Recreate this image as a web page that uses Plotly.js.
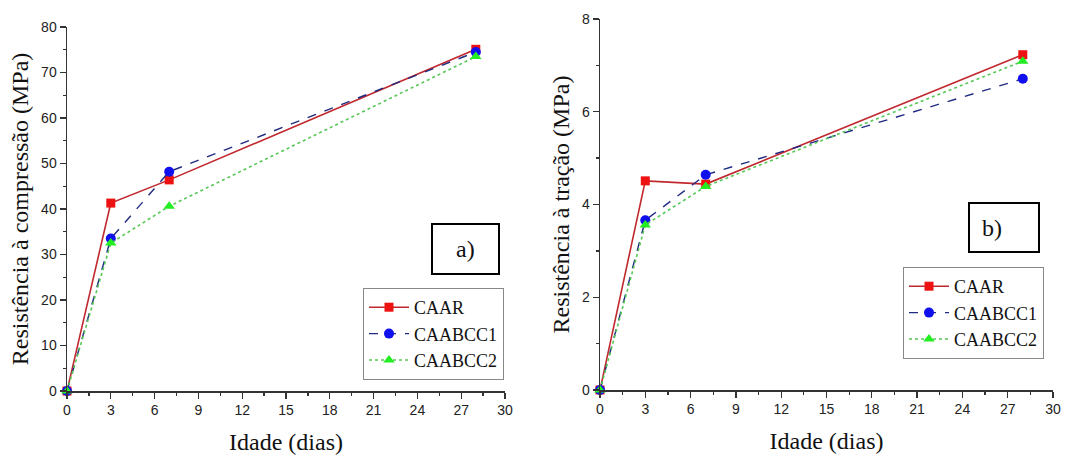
<!DOCTYPE html>
<html><head><meta charset="utf-8">
<script src="https://cdn.plot.ly/plotly-3.0.1.min.js"></script>
<style>body{margin:0;background:#fff}#chart{width:1068px;height:455px}</style>
</head><body><div id="chart"></div>
<script>
// Data
const idade = [0, 3, 7, 28];
const seriesNames = ["CAAR", "CAABCC1", "CAABCC2"];
// a) compressive strength (MPa)
const compCAAR    = [0, 41.3, 46.4, 75.1];
const compCAABCC1 = [0, 33.5, 48.2, 74.5];
const compCAABCC2 = [0, 32.5, 40.6, 73.5];
// b) tensile strength (MPa)
const tracCAAR    = [0, 4.51, 4.44, 7.23];
const tracCAABCC1 = [0, 3.66, 4.64, 6.71];
const tracCAABCC2 = [0, 3.56, 4.39, 7.09];
const xTicks = [0, 3, 6, 9, 12, 15, 18, 21, 24, 27, 30];

const styles = [
  {line:{color:'#c0282e', width:1.6, dash:'solid'}, marker:{symbol:'square', color:'#ee1111', size:9}},
  {line:{color:'#1f2a80', width:1.4, dash:'dash'}, marker:{symbol:'circle', color:'#1010ee', size:10}},
  {line:{color:'#55c855', width:1.6, dash:'dot'}, marker:{symbol:'triangle-up', color:'#22ee22', size:10}}
];

const compData = [compCAAR, compCAABCC1, compCAABCC2];
const tracData = [tracCAAR, tracCAABCC1, tracCAABCC2];
const traces = [];
compData.forEach((ys, i) => traces.push({
  x: idade, y: ys, name: seriesNames[i], type:'scatter', mode:'lines+markers',
  xaxis:'x', yaxis:'y', legend:'legend', cliponaxis:false,
  line: styles[i].line, marker: styles[i].marker
}));
tracData.forEach((ys, i) => traces.push({
  x: idade, y: ys, name: seriesNames[i], type:'scatter', mode:'lines+markers',
  xaxis:'x2', yaxis:'y2', legend:'legend2', cliponaxis:false,
  line: styles[i].line, marker: styles[i].marker
}));

const W = 1068, H = 455;
const SANS = "'Liberation Sans', Arial, sans-serif";
const SERIF = "'Liberation Serif', 'Times New Roman', serif";
const tickFont = {family:SANS, size:14, color:'#222'};
const titleFont = {family:SERIF, size:24, color:'#111'};
function xax(dom, anchor){
  return {domain:dom, anchor:anchor, range:[0,30], tickvals:xTicks, ticks:'outside', ticklen:6, tickwidth:1.3,
    tickcolor:'#333', showline:true, linecolor:'#333', linewidth:1.5, showgrid:false, zeroline:false,
    minor:{dtick:1.5, tick0:0, ticks:'outside', ticklen:3, tickcolor:'#333', showgrid:false},
    tickfont:tickFont, title:{text:'Idade (dias)', font:titleFont, standoff:16}};
}
function yax(dom, anchor, rng, dt, mdt, title, so){
  return {domain:dom, anchor:anchor, range:rng, dtick:dt, tick0:0, ticks:'outside', ticklen:6, tickwidth:1.3,
    tickcolor:'#333', showline:true, linecolor:'#333', linewidth:1.5, showgrid:false, zeroline:false,
    minor:{dtick:mdt, ticks:'outside', ticklen:3, tickcolor:'#333', showgrid:false},
    tickfont:tickFont, title:{text:title, font:titleFont, standoff:so}};
}
const legFont = {family:SERIF, size:18, color:'#111'};
const layout = {
  width:W, height:H, margin:{l:0, r:0, t:0, b:0}, paper_bgcolor:'#fff', plot_bgcolor:'#fff',
  xaxis: xax([67/W, 505/W], 'y'),
  yaxis: yax([1-391/H, 1-27/H], 'x', [0,80], 10, 5, 'Resistência à compressão (MPa)', 5),
  xaxis2: xax([600/W, 1053/W], 'y2'),
  yaxis2: yax([1-390/H, 1-19/H], 'x2', [0,8], 2, 1, 'Resistência à tração (MPa)', 5),
  legend:{x:363/W, y:1-288/H, xanchor:'left', yanchor:'top', bgcolor:'#fff', bordercolor:'#888', borderwidth:1,
    font:legFont, tracegroupgap:0, itemwidth:40},
  legend2:{x:903/W, y:1-267/H, xanchor:'left', yanchor:'top', bgcolor:'#fff', bordercolor:'#888', borderwidth:1,
    font:legFont, tracegroupgap:0, itemwidth:40},
  shapes:[
    {type:'rect', xref:'paper', yref:'paper', x0:432/W, x1:499/W, y0:1-274/H, y1:1-224/H, line:{color:'#000', width:2}, fillcolor:'#fff'},
    {type:'rect', xref:'paper', yref:'paper', x0:969/W, x1:1039/W, y0:1-252/H, y1:1-203/H, line:{color:'#000', width:2}, fillcolor:'#fff'}
  ],
  annotations:[
    {xref:'paper', yref:'paper', x:465/W, y:1-249/H, text:'a)', showarrow:false, font:{family:SERIF, size:24, color:'#111'}},
    {xref:'paper', yref:'paper', x:1004/W, y:1-228/H, text:'b)', showarrow:false, font:{family:SERIF, size:24, color:'#111'}}
  ]
};
Plotly.newPlot('chart', traces, layout, {staticPlot:true, displayModeBar:false});
</script></body></html>
